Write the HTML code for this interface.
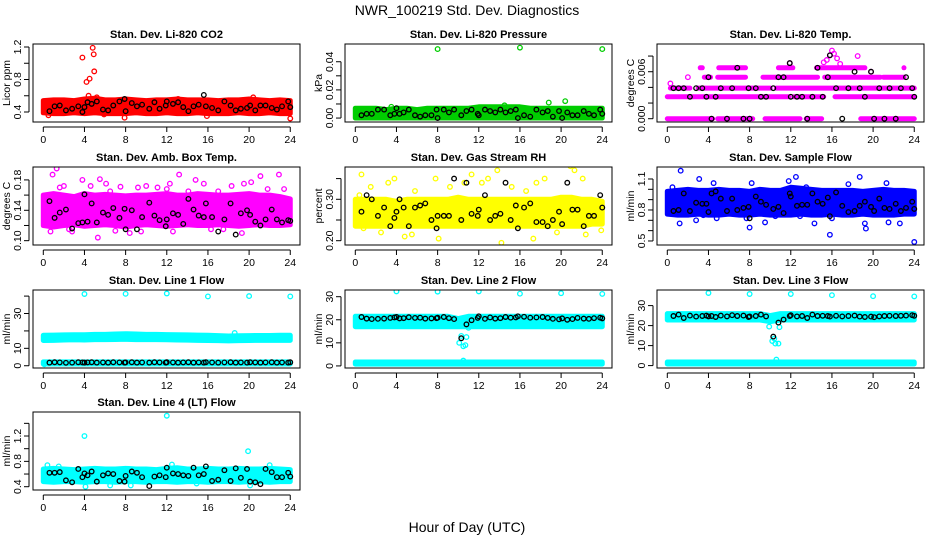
<!DOCTYPE html>
<html><head><meta charset="utf-8"><style>
html,body{margin:0;padding:0;background:#fff;}
svg{display:block;font-family:"Liberation Sans",sans-serif;}
</style></head><body>
<svg id="chart" width="936" height="540" viewBox="0 0 936 540" xmlns="http://www.w3.org/2000/svg">
<rect width="936" height="540" fill="#fff"/>
<text x="467" y="15" font-size="14" text-anchor="middle">NWR_100219  Std. Dev. Diagnostics</text>
<text x="467" y="532" font-size="14" text-anchor="middle">Hour of Day (UTC)</text>
</svg>
<script>
// ---- data ----
const bandHours = [0,1,2,3,4,5,6,7,8,9,10,11,12,13,14,15,16,17,18,19,20,21,22,23,24];
const blackHours = [0.6,1.1,1.6,2.2,2.8,3.4,3.8,4.0,4.3,4.7,5.2,5.8,6.3,6.8,7.4,7.9,8.0,8.6,9.1,9.6,10.3,10.8,11.3,11.9,12.0,12.6,13.1,13.6,14.1,14.6,15.1,15.6,15.8,16.4,17.0,17.6,18.2,18.7,19.2,19.8,20.1,20.6,21.1,21.6,22.2,22.7,23.2,23.8,24.0];

const co2Lo = [0.39,0.38,0.38,0.39,0.38,0.39,0.38,0.38,0.38,0.39,0.38,0.38,0.39,0.38,0.38,0.39,0.38,0.38,0.38,0.39,0.38,0.38,0.39,0.38,0.38];
const co2Hi = [0.54,0.55,0.55,0.54,0.56,0.57,0.55,0.55,0.56,0.55,0.54,0.55,0.55,0.56,0.55,0.55,0.55,0.54,0.55,0.55,0.56,0.55,0.54,0.55,0.54];
const co2OutX = [3.8,4.2,4.5,4.8,4.9,4.95,4.4,5.2,20.4,13.1,7.9,24.0,0.5,15.9,5.9];
const co2OutY = [1.07,0.77,0.81,1.19,1.11,0.90,0.60,0.58,0.58,0.56,0.33,0.32,0.36,0.35,0.37];
const co2Black = [0.41,0.47,0.48,0.42,0.44,0.47,0.40,0.46,0.52,0.50,0.53,0.43,0.42,0.48,0.53,0.56,0.41,0.51,0.47,0.49,0.44,0.52,0.44,0.48,0.53,0.50,0.52,0.46,0.41,0.47,0.49,0.61,0.47,0.45,0.42,0.53,0.48,0.42,0.44,0.45,0.48,0.42,0.48,0.48,0.45,0.43,0.47,0.53,0.46];

const presLo = [0.000,0.000,0.000,0.000,0.000,0.000,0.000,0.000,0.000,0.000,0.000,0.000,0.000,0.000,0.000,0.000,0.000,0.000,0.000,0.000,0.000,0.000,0.000,0.000,0.000];
const presHi = [0.007,0.007,0.007,0.006,0.007,0.007,0.006,0.007,0.007,0.007,0.007,0.007,0.008,0.008,0.008,0.008,0.008,0.007,0.007,0.007,0.007,0.007,0.007,0.007,0.007];
const presOutX = [8,16,24,20.4,18.8,3.5,14.5];
const presOutY = [0.049,0.050,0.049,0.012,0.011,0.008,0.009];
const presBlack = [0.002,0.003,0.003,0.006,0.006,0.002,0.003,0.007,0.003,0.004,0.006,0.002,0.001,0.002,0.002,0.006,0.000,0.006,0.004,0.006,0.002,0.005,0.006,0.003,0.002,0.006,0.005,0.004,0.006,0.004,0.005,0.006,0.000,0.002,0.001,0.006,0.004,0.005,0.001,0.005,0.000,0.004,0.002,0.002,0.005,0.003,0.002,0.006,0.003];

const tempLevels = [0, 0.0028, 0.0039, 0.0053, 0.0065];
const tempSegStart = [[0,4.9,9.5,13.5,18.8],[0,12.3,16.3],[0.3,3.0,10.6],[3.6,4.9,9.3,15.3,21.0],[3.2,5.0,10.8,14.5,23.0]];
const tempSegEnd = [[4.4,8.3,12.9,15.0,24],[11.8,15.2,24],[2.2,10.0,24],[4.2,7.6,14.6,20.7,23.0],[3.4,7.6,12.2,19.2,23.0]];
const tempOutX = [15.5,15.8,16.0,16.2,16.5,18.5,11.9,15.2,16.8,19.8,2.0,0.3];
const tempOutY = [0.0075,0.0081,0.0087,0.0083,0.0077,0.0080,0.0071,0.0072,0.0070,0.0060,0.0053,0.0045];
const tempBlack = [0.0039,0.0039,0.0039,0.0028,0.0039,0.0039,0.0028,0.0053,0.0000,0.0028,0.0039,0.0000,0.0039,0.0065,0.0000,0.0039,0.0000,0.0039,0.0028,0.0028,0.0039,0.0053,0.0053,0.0071,0.0028,0.0028,0.0028,0.0000,0.0028,0.0065,0.0028,0.0053,0.0081,0.0039,0.0000,0.0039,0.0060,0.0039,0.0028,0.0060,0.0000,0.0039,0.0000,0.0039,0.0000,0.0039,0.0053,0.0039,0.0028];

const ambLo = [0.120,0.118,0.120,0.121,0.119,0.120,0.121,0.120,0.118,0.120,0.121,0.120,0.119,0.120,0.121,0.120,0.120,0.121,0.120,0.119,0.120,0.121,0.120,0.120,0.121];
const ambHi = [0.160,0.162,0.160,0.158,0.162,0.160,0.161,0.160,0.159,0.160,0.160,0.161,0.162,0.160,0.160,0.162,0.161,0.160,0.160,0.161,0.162,0.160,0.160,0.158,0.155];
const ambOutX = [0.5,0.9,1.3,1.6,2.0,2.8,3.8,4.6,5.3,5.5,6.1,6.5,7.0,7.5,8.4,9.2,10.0,11.1,12.0,12.3,13.2,14.1,15.0,15.6,16.3,17.0,18.3,19.3,20.2,21.1,21.8,22.9,23.4,0.7,2.5,9.5,17.5,19.5,12.6,14.8];
const ambOutY = [0.145,0.187,0.195,0.170,0.172,0.112,0.180,0.172,0.104,0.181,0.175,0.165,0.113,0.171,0.110,0.170,0.172,0.170,0.168,0.175,0.187,0.165,0.160,0.175,0.115,0.165,0.172,0.110,0.177,0.185,0.168,0.187,0.168,0.112,0.115,0.112,0.115,0.175,0.112,0.180];
const ambBlack = [0.152,0.130,0.137,0.141,0.116,0.123,0.124,0.161,0.125,0.149,0.124,0.137,0.134,0.143,0.130,0.142,0.115,0.140,0.115,0.131,0.150,0.133,0.127,0.119,0.128,0.136,0.134,0.122,0.155,0.141,0.133,0.131,0.149,0.131,0.112,0.128,0.149,0.108,0.136,0.140,0.134,0.125,0.120,0.128,0.141,0.128,0.124,0.127,0.126];

const rhLo = [0.235,0.235,0.235,0.235,0.235,0.235,0.235,0.235,0.235,0.235,0.235,0.235,0.235,0.235,0.235,0.235,0.235,0.235,0.235,0.235,0.235,0.235,0.235,0.24,0.24];
const rhHi = [0.300,0.300,0.300,0.300,0.295,0.300,0.300,0.300,0.300,0.300,0.305,0.300,0.300,0.300,0.300,0.300,0.300,0.300,0.300,0.300,0.305,0.305,0.300,0.300,0.295];
const rhOutX = [0.4,0.6,1.5,2.5,3.2,3.8,4.8,5.8,7.8,8.1,9.2,10.6,11.3,12.3,12.9,13.8,14.2,15.2,16.6,17.3,18.4,19.6,20.9,21.3,22.1,22.4,23.9,0.8,5.5,17.6];
const rhOutY = [0.31,0.36,0.33,0.22,0.34,0.35,0.21,0.32,0.35,0.205,0.33,0.34,0.36,0.34,0.35,0.37,0.195,0.33,0.32,0.205,0.35,0.22,0.38,0.37,0.35,0.215,0.225,0.23,0.215,0.34];
const rhBlack = [0.27,0.31,0.30,0.26,0.28,0.235,0.255,0.27,0.30,0.28,0.235,0.28,0.285,0.29,0.25,0.23,0.26,0.26,0.26,0.35,0.25,0.34,0.265,0.26,0.275,0.31,0.25,0.26,0.265,0.34,0.25,0.285,0.23,0.28,0.29,0.245,0.245,0.235,0.25,0.27,0.24,0.34,0.275,0.275,0.235,0.26,0.26,0.31,0.28];

const flowLo = [0.76,0.75,0.75,0.76,0.75,0.75,0.76,0.75,0.75,0.76,0.75,0.75,0.75,0.76,0.75,0.75,0.76,0.75,0.75,0.76,0.75,0.75,0.75,0.76,0.76];
const flowHi = [0.98,0.99,1.00,0.99,0.99,1.00,0.99,0.99,0.98,1.00,0.99,0.99,1.02,1.01,1.00,0.99,0.99,0.99,0.99,0.98,0.99,1.00,0.99,0.99,0.98];
const flowOutX = [0.5,1.3,1.2,2.5,3.1,3.5,4.5,4.8,7.7,8.0,8.2,9.5,11.8,12.5,12.9,13.5,14.3,15.8,16.0,17.6,18.7,19.2,19.3,21.3,21.5,22.6,24.0,5.5,10.5,2.8];
const flowOutY = [1.02,1.18,0.67,0.97,1.1,0.75,1.06,0.72,0.72,0.63,1.06,0.68,1.08,1.12,0.74,1.02,0.67,0.56,0.72,1.05,1.12,0.67,0.62,1.06,0.68,0.67,0.49,0.78,0.74,0.70];
const flowBlack = [0.79,0.80,0.96,0.79,0.87,0.86,0.86,0.78,0.96,0.98,0.91,0.79,0.91,0.80,0.82,0.83,0.72,0.93,0.88,0.85,0.81,0.83,0.77,0.96,0.93,0.84,0.85,0.85,0.96,0.88,0.86,0.92,0.74,0.97,0.84,0.78,0.79,0.84,0.88,0.83,0.79,0.91,0.82,0.81,0.86,0.79,0.82,0.88,0.81];

const l1Lo = [14.5,14.6,14.8,14.9,14.8,15.0,15.0,15.1,15.2,15.0,15.0,15.0,14.9,14.8,14.7,14.6,14.5,14.4,14.3,14.4,14.5,14.6,14.6,14.6,14.6];
const l1Hi = [17.5,17.6,17.7,17.8,17.8,18.0,18.0,18.2,18.4,18.2,18.0,18.0,17.9,17.8,17.7,17.6,17.5,17.3,17.1,17.2,17.3,17.4,17.4,17.5,17.5];
const l1Lo2 = [1.0,1.0,1.0,1.0,1.0,1.0,1.0,1.0,1.0,1.0,1.0,1.0,1.0,1.0,1.0,1.0,1.0,1.0,1.0,1.0,1.0,1.0,1.0,1.0,1.0];
const l1Hi2 = [2.2,2.2,2.2,2.2,2.2,2.2,2.2,2.2,2.2,2.2,2.2,2.2,2.2,2.2,2.2,2.2,2.2,2.2,2.2,2.2,2.2,2.2,2.2,2.2,2.2];
const l1OutX = [4,8,12,16,20,24,18.6,0.1];
const l1OutY = [41.2,41.3,41.5,39.8,40.0,39.8,18.8,0.8];
const l1Black = [1.8,2.0,1.9,1.7,1.8,2.0,1.9,1.8,1.9,2.0,1.8,1.9,1.8,2.0,1.9,1.8,1.9,2.0,1.8,1.9,1.8,2.0,1.9,1.8,2.0,1.9,1.8,1.9,2.0,1.8,1.9,1.8,2.0,1.9,1.8,1.9,2.0,1.8,1.9,1.8,2.0,1.9,1.8,1.9,2.0,1.8,1.9,1.8,2.0];

const l2Lo = [17.0,17.0,17.0,17.0,17.0,17.0,17.0,17.0,17.0,17.0,17.0,17.0,17.0,17.0,17.0,17.0,17.0,17.0,17.0,17.0,17.0,17.0,17.0,17.0,17.0];
const l2Hi = [21.5,21.5,21.5,21.5,21.5,21.5,21.5,21.5,21.5,21.5,20.5,21.5,21.5,21.5,21.5,21.5,21.5,21.5,21.5,21.5,21.5,21.5,21.5,21.5,21.5];
const l2Lo2 = [0.8,0.8,0.8,0.8,0.8,0.8,0.8,0.8,0.8,0.8,0.8,0.8,0.8,0.8,0.8,0.8,0.8,0.8,0.8,0.8,0.8,0.8,0.8,0.8,0.8];
const l2Hi2 = [1.7,1.7,1.7,1.7,1.7,1.7,1.7,1.7,1.7,1.7,1.7,1.7,1.7,1.7,1.7,1.7,1.7,1.7,1.7,1.7,1.7,1.7,1.7,1.7,1.7];
const l2OutX = [4,8,12,16,20,24,10.1,10.3,10.5,10.7,10.5,11.0,10.8];
const l2OutY = [32.3,32.2,32.3,31.3,31.5,31.2,10,13,8.5,9,2.3,16.5,12.5];
const l2Black = [21.2,20.5,20.3,20.4,20.5,20.8,21.0,21.2,20.6,20.7,21.1,20.8,20.9,20.5,20.6,20.7,20.9,21.2,20.7,20.3,12.0,18.0,19.8,20.8,21.5,20.4,21.0,20.5,20.7,21.2,20.9,21.0,21.5,21.3,20.9,21.0,21.2,20.8,20.4,20.2,20.6,20.0,20.3,20.8,20.5,20.4,20.7,20.9,20.6];

const l3Lo = [22.8,22.8,22.8,22.8,22.8,22.8,22.8,22.8,22.8,22.8,22.0,22.8,22.8,22.8,22.8,22.8,22.8,22.8,22.8,22.8,22.8,22.8,22.8,22.8,22.8];
const l3Hi = [26.0,26.0,26.0,26.0,26.0,26.0,26.0,26.0,26.0,26.0,25.0,26.0,26.0,26.0,26.0,26.0,26.0,26.0,26.0,26.0,26.0,26.0,26.0,26.0,26.0];
const l3Lo2 = [0.8,0.8,0.8,0.8,0.8,0.8,0.8,0.8,0.8,0.8,0.8,0.8,0.8,0.8,0.8,0.8,0.8,0.8,0.8,0.8,0.8,0.8,0.8,0.8,0.8];
const l3Hi2 = [1.8,1.8,1.8,1.8,1.8,1.8,1.8,1.8,1.8,1.8,1.8,1.8,1.8,1.8,1.8,1.8,1.8,1.8,1.8,1.8,1.8,1.8,1.8,1.8,1.8];
const l3OutX = [4,8,12,16,20,24,9.9,10.2,10.5,10.8,10.9,10.6,10.4];
const l3OutY = [36.3,35.8,35.8,35.2,34.7,34.6,19.5,12.3,11.0,11.0,19.2,3.0,13.5];
const l3Black = [24.8,25.5,23.8,25.0,24.5,24.8,25.0,24.6,24.8,24.3,25.0,24.6,25.2,24.8,25.0,24.3,24.6,24.8,25.5,24.6,14.5,21.5,23.0,24.8,25.2,24.6,24.8,23.8,25.5,24.8,24.9,24.8,24.5,24.9,24.6,24.8,25.0,24.5,24.3,24.5,24.2,24.6,24.8,24.9,24.8,24.9,25.0,25.2,24.9];

const l4Lo = [0.48,0.47,0.48,0.48,0.47,0.48,0.48,0.47,0.48,0.48,0.47,0.48,0.48,0.47,0.48,0.48,0.47,0.48,0.48,0.47,0.48,0.48,0.47,0.48,0.48];
const l4Hi = [0.68,0.69,0.68,0.67,0.68,0.69,0.68,0.68,0.69,0.68,0.68,0.67,0.69,0.70,0.68,0.68,0.69,0.68,0.68,0.69,0.68,0.68,0.69,0.68,0.67];
const l4OutX = [4,12,19.9,0.4,4.1,6.5,8.5,12.5,22.0,20.1,1.5,14.9];
const l4OutY = [1.20,1.52,0.96,0.74,0.40,0.42,0.42,0.75,0.74,0.42,0.72,0.45];
const l4Black = [0.62,0.62,0.63,0.50,0.47,0.68,0.55,0.61,0.58,0.64,0.48,0.58,0.61,0.60,0.49,0.48,0.57,0.64,0.62,0.55,0.41,0.56,0.58,0.55,0.70,0.61,0.60,0.58,0.57,0.70,0.58,0.60,0.72,0.49,0.51,0.66,0.49,0.69,0.54,0.68,0.48,0.47,0.44,0.68,0.63,0.55,0.55,0.62,0.56];

// ---- axis specs ----
const titles = ["Stan. Dev. Li-820 CO2","Stan. Dev. Li-820 Pressure","Stan. Dev. Li-820 Temp.","Stan. Dev. Amb. Box Temp.","Stan. Dev. Gas Stream RH","Stan. Dev. Sample Flow","Stan. Dev. Line 1 Flow","Stan. Dev. Line 2 Flow","Stan. Dev. Line 3 Flow","Stan. Dev. Line 4 (LT) Flow"];
const yTitles = ["Licor ppm","kPa","degrees C","degrees C","percent","ml/min","ml/min","ml/min","ml/min","ml/min"];
const yMins = [0.277,-0.0028,-0.00042,0.0943,0.1896,0.461,-1.3,-0.9,-1.2,0.348];
const yMaxs = [1.237,0.0526,0.00954,0.197,0.378,1.216,43.5,32.9,37.8,1.579];
const yTicks = [[0.4,0.6,0.8,1.0,1.2],[0,0.01,0.02,0.03,0.04],[0,0.002,0.004,0.006,0.008],[0.10,0.12,0.14,0.16,0.18],[0.20,0.25,0.30,0.35],[0.5,0.6,0.7,0.8,0.9,1.0,1.1],[0,10,20,30,40],[0,10,20,30],[0,10,20,30],[0.4,0.6,0.8,1.0,1.2,1.4]];
const yTickLabels = [["0.4","","0.8","","1.2"],["0.00","","0.02","","0.04"],["0.000","","","0.006",""],["0.10","","0.14","","0.18"],["0.20","","0.30",""],["0.5","","","0.8","","","1.1"],["0","10","","30",""],["0","10","20","30"],["0","10","20","30"],["0.4","","0.8","","1.2",""]];
const xTicks = [0,4,8,12,16,20,24];
const xTickLabels = ["0","4","8","12","16","20","24"];

const series = [
 {c:"#ff0000", bands:[[co2Lo,co2Hi]], ox:co2OutX, oy:co2OutY, bk:co2Black},
 {c:"#00cd00", bands:[[presLo,presHi]], ox:presOutX, oy:presOutY, bk:presBlack},
 {c:"#ff00ff", bands:[], ox:tempOutX, oy:tempOutY, bk:tempBlack, levels:true},
 {c:"#ff00ff", bands:[[ambLo,ambHi]], ox:ambOutX, oy:ambOutY, bk:ambBlack},
 {c:"#ffff00", bands:[[rhLo,rhHi]], ox:rhOutX, oy:rhOutY, bk:rhBlack},
 {c:"#0000ff", bands:[[flowLo,flowHi]], ox:flowOutX, oy:flowOutY, bk:flowBlack},
 {c:"#00ffff", bands:[[l1Lo,l1Hi],[l1Lo2,l1Hi2]], ox:l1OutX, oy:l1OutY, bk:l1Black},
 {c:"#00ffff", bands:[[l2Lo,l2Hi],[l2Lo2,l2Hi2]], ox:l2OutX, oy:l2OutY, bk:l2Black},
 {c:"#00ffff", bands:[[l3Lo,l3Hi],[l3Lo2,l3Hi2]], ox:l3OutX, oy:l3OutY, bk:l3Black},
 {c:"#00ffff", bands:[[l4Lo,l4Hi]], ox:l4OutX, oy:l4OutY, bk:l4Black}
];

// ---- drawing ----
const NS = "http://www.w3.org/2000/svg";
const svg = document.getElementById("chart");
function mk(tag, attrs, parent){
  const e = document.createElementNS(NS, tag);
  for (const k in attrs) e.setAttribute(k, attrs[k]);
  (parent||svg).appendChild(e);
  return e;
}
const colLefts = [33,345,657];
const rowTops = [44,167,290,412];
const boxW = 267, boxH = 78;

titles.forEach((title, i) => {
  const col = i % 3, row = Math.floor(i / 3);
  const L = colLefts[col], T = rowTops[row], B = T + boxH;
  const xs = t => L + 10.3 + t * 10.29;
  const ys = v => B - (v - yMins[i]) / (yMaxs[i] - yMins[i]) * boxH;
  const g = mk("g", {});
  
  
  const clip = mk("clipPath", {id: "clip"+i}, g);
  mk("rect", {x:L, y:T, width:boxW, height:boxH}, clip);
  const data = mk("g", {"clip-path": "url(#clip"+i+")"}, g);
  
  
  const s = series[i];
  s.bands.forEach(([lo, hi]) => {
    let pts = bandHours.map((h, k) => xs(h) + "," + ys(hi[k]));
    pts = pts.concat(bandHours.slice().reverse().map((h, k) => xs(h) + "," + ys(lo[lo.length-1-k])));
    const p = mk("polygon", {points: pts.join(" "), fill: s.c, stroke: s.c, "stroke-width": 5, "stroke-linejoin": "round"}, data);
    
    
  });
  if (s.levels) {
    tempLevels.forEach((lv, li) => {
      tempSegStart[li].forEach((st, k) => {
        const en = tempSegEnd[li][k];
        const ln = mk("line", {x1: xs(st), x2: xs(en), y1: ys(lv), y2: ys(lv), stroke: s.c, "stroke-width": 5, "stroke-linecap": "round"}, data);
        
        
      });
    });
  }
  s.ox.forEach((x, k) => {
    const c = mk("circle", {cx: xs(x), cy: ys(s.oy[k]), r: 2.3, fill: "none", stroke: s.c, "stroke-width": 1.3}, data);
    
    
  });
  blackHours.forEach((h, k) => {
    const c = mk("circle", {cx: xs(h), cy: ys(s.bk[k]), r: 2.3, fill: "none", stroke: "#000", "stroke-width": 1.3}, data);
    
    
  });
  const box = mk("rect", {x:L, y:T, width:boxW, height:boxH, fill:"none", stroke:"#000", "stroke-width":1}, g);
  
  
  const tt = mk("text", {x: L + boxW/2, y: T - 6, "font-size": 11, "font-weight": "bold", "text-anchor": "middle"}, g);
  tt.textContent = title;
  
  
  // x axis
  const xa = mk("line", {x1: xs(0), x2: xs(24), y1: B+5, y2: B+5, stroke:"#000"}, g);
  
  
  xTicks.forEach((t, k) => {
    const tk = mk("line", {x1: xs(t), x2: xs(t), y1: B+5, y2: B+10, stroke:"#000"}, g);
    
    
    const lb = mk("text", {x: xs(t), y: B+21, "font-size": 10.5, "text-anchor": "middle"}, g);
    lb.textContent = xTickLabels[k];
    
    
  });
  // y axis
  const tks = yTicks[i];
  const ya = mk("line", {x1: L-4, x2: L-4, y1: ys(tks[0]), y2: ys(tks[tks.length-1]), stroke:"#000"}, g);
  
  
  tks.forEach((t, k) => {
    const tk = mk("line", {x1: L-9, x2: L-4, y1: ys(t), y2: ys(t), stroke:"#000"}, g);
    
    
    if (yTickLabels[i][k]) {
      const yy = ys(t);
      const lb = mk("text", {x: L-12, y: yy, "font-size": 10.5, "text-anchor": "middle", transform: "rotate(-90 " + (L-12) + " " + yy + ")"}, g);
      lb.textContent = yTickLabels[i][k];
      
      
    }
  });
  const yt = mk("text", {x: L-23, y: T + boxH/2, "font-size": 10.5, "text-anchor": "middle", transform: "rotate(-90 " + (L-23) + " " + (T+boxH/2) + ")"}, g);
  yt.textContent = yTitles[i];
  
  
});
</script>
</body></html>
